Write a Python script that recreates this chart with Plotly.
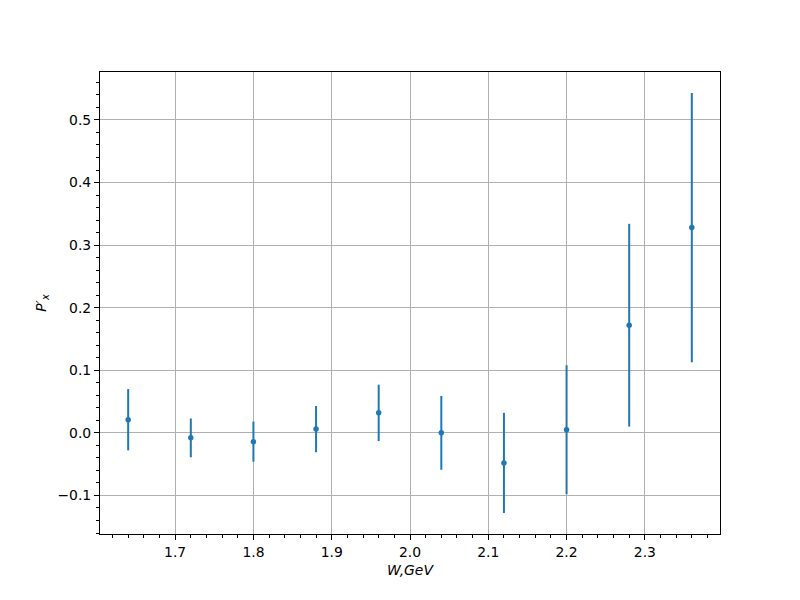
import plotly.graph_objects as go

w_values = [1.64, 1.72, 1.80, 1.88, 1.96, 2.04, 2.12, 2.20, 2.28, 2.36]
px_values = [0.021, -0.008, -0.014, 0.006, 0.032, 0.000, -0.048, 0.005, 0.172, 0.328]
px_errors = [0.049, 0.031, 0.032, 0.037, 0.045, 0.059, 0.080, 0.103, 0.162, 0.215]

color = "#1f77b4"
font = dict(family="DejaVu Sans", size=13.9, color="black")

fig = go.Figure()
fig.add_trace(go.Scatter(
    x=w_values, y=px_values,
    mode="markers",
    marker=dict(color=color, size=5.5),
    error_y=dict(type="data", array=px_errors, visible=True, color=color, thickness=2, width=0),
    showlegend=False,
))

axis_common = dict(
    showline=True, linecolor="black", linewidth=1.1, mirror=True,
    ticks="outside", ticklen=5, tickwidth=1.1, tickcolor="black",
    showgrid=True, gridcolor="#b0b0b0", gridwidth=1.1,
    zeroline=False, tickfont=font,
)

fig.update_xaxes(
    range=[1.604, 2.396], dtick=0.1, tick0=1.7, tickformat=".1f",
    minor=dict(ticks="outside", ticklen=3, tickwidth=0.8, tickcolor="black", dtick=0.02, tick0=1.6, showgrid=False),
    title=dict(text="<i>W,GeV</i>", font=font, standoff=6),
    **axis_common,
)
fig.update_yaxes(
    range=[-0.1616, 0.5766], dtick=0.1, tick0=0, tickformat=".1f",
    minor=dict(ticks="outside", ticklen=3, tickwidth=0.8, tickcolor="black", dtick=0.02, tick0=0, showgrid=False),
    title=dict(text="<i>P′<sub>x</sub></i>", font=font, standoff=7),
    **axis_common,
)

fig.update_layout(
    width=800, height=600,
    margin=dict(l=92, r=88, t=64, b=74),
    paper_bgcolor="white", plot_bgcolor="white",
    font=font,
)

fig.write_html("out.html")
